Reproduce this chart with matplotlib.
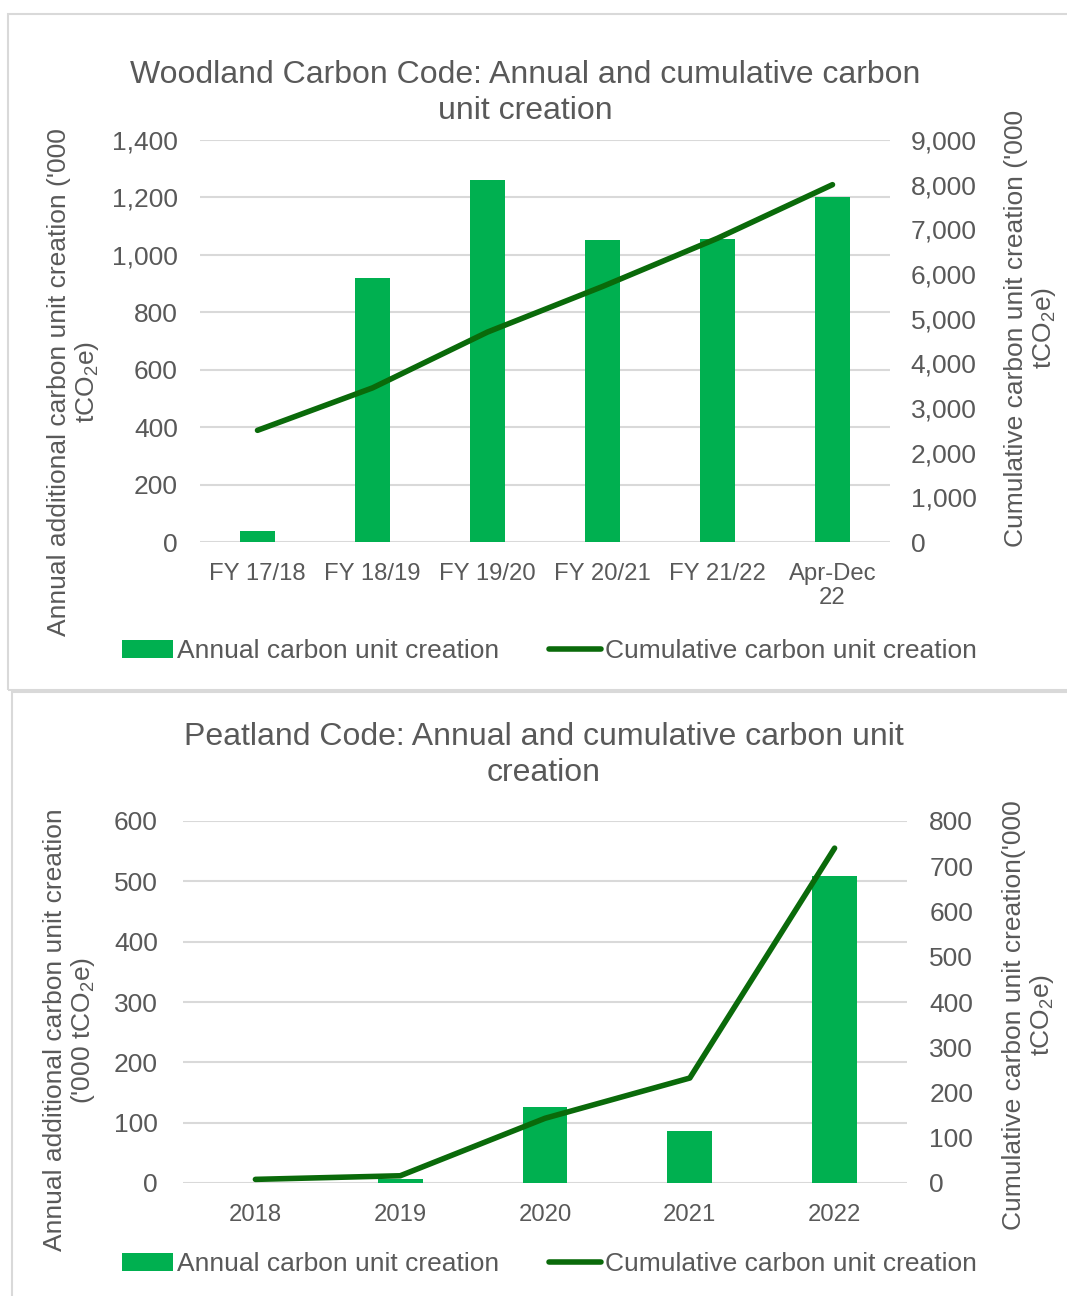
import matplotlib
matplotlib.use('Agg')
from matplotlib import pyplot as plt
from matplotlib.patches import Rectangle
from matplotlib.ticker import FuncFormatter

# -- data --
wcc_periods = ['FY 17/18', 'FY 18/19', 'FY 19/20', 'FY 20/21', 'FY 21/22', 'Apr-Dec\n22']
wcc_annual = [38, 920, 1261, 1052, 1055, 1200]
wcc_cumulative = [2500, 3450, 4700, 5720, 6800, 8000]

pc_years = ['2018', '2019', '2020', '2021', '2022']
pc_annual = [0, 7, 126, 86, 509]
pc_cumulative = [8, 16, 143, 232, 740]

bar_col = '#00B050'
line_col = '#0A6A0A'
txt_col = '#595959'
grid_col = '#D9D9D9'

plt.rcParams['font.family'] = ['Liberation Sans', 'DejaVu Sans']
plt.rcParams['mathtext.fontset'] = 'custom'
plt.rcParams['mathtext.rm'] = 'Liberation Sans'
plt.rcParams['mathtext.it'] = 'Liberation Sans'

W, H = 1067, 1296
fig = plt.figure(figsize=(W / 100, H / 100), dpi=100)

comma = FuncFormatter(lambda v, p: '{:,.0f}'.format(v))


def px(x, y):       # pixel coords of the picture to figure fractions
    return x / W, 1 - y / H


def draw_chart(box, cats, annual, cum, ylim1, step1, ylim2, step2, lpad, rpad, xpad):
    ax = fig.add_axes(box)
    ax2 = ax.twinx()
    xs = list(range(len(cats)))
    ax.bar(xs, annual, width=0.31, color=bar_col, zorder=2, label='Annual carbon unit creation')
    ax2.plot(xs, cum, color=line_col, lw=4, solid_capstyle='round', label='Cumulative carbon unit creation')
    ax.set_xlim(-0.5, len(cats) - 0.5)
    ax.set_ylim(0, ylim1)
    ax2.set_ylim(0, ylim2)
    ax.set_yticks(range(0, ylim1 + 1, step1))
    ax2.set_yticks(range(0, ylim2 + 1, step2))
    ax.yaxis.set_major_formatter(comma)
    ax2.yaxis.set_major_formatter(comma)
    ax.set_xticks(xs)
    ax.set_xticklabels(cats, linespacing=1.15)
    ax.grid(axis='y', color=grid_col, lw=1.5, zorder=0)
    ax.set_axisbelow(True)
    for a in (ax, ax2):
        for s in a.spines.values():
            s.set_visible(False)
    ax.tick_params(axis='y', length=0, pad=lpad, labelsize=19, labelcolor=txt_col)
    ax2.tick_params(axis='y', length=0, pad=rpad, labelsize=19, labelcolor=txt_col)
    ax.tick_params(axis='x', length=0, pad=xpad, labelsize=17.2, labelcolor=txt_col)
    return ax, ax2


# -- panel borders --
fig.patches.append(Rectangle(px(8, 690), (W - 8) / W + 0.01, 676 / H, transform=fig.transFigure,
                             fill=False, ec=grid_col, lw=1.5))
fig.patches.append(Rectangle(px(12, 1300), (W - 12) / W + 0.01, 608 / H, transform=fig.transFigure,
                             fill=False, ec=grid_col, lw=1.5))

# -- woodland carbon code --
ax_a, ax_a2 = draw_chart([200 / W, 1 - 542 / H, 690 / W, 402 / H], wcc_periods, wcc_annual, wcc_cumulative,
                         1400, 200, 9000, 1000, 16, 15, 15)
fig.text(*px(525, 93), 'Woodland Carbon Code: Annual and cumulative carbon\nunit creation',
         ha='center', va='center', fontsize=23, color=txt_col, linespacing=1.25)
fig.text(*px(74, 382), "Annual additional carbon unit creation ('000\ntCO$_2$e)", rotation=90,
         ha='center', va='center', multialignment='center', fontsize=19, color=txt_col, linespacing=1.1)
fig.text(*px(1031, 328), "Cumulative carbon unit creation ('000\ntCO$_2$e)", rotation=90,
         ha='center', va='center', multialignment='center', fontsize=19, color=txt_col, linespacing=1.1)
h1, l1 = ax_a.get_legend_handles_labels()
h2, l2 = ax_a2.get_legend_handles_labels()
fig.legend(h1 + h2, l1 + l2, loc='center', bbox_to_anchor=px(549, 651), ncol=2, frameon=False,
           fontsize=19, labelcolor=txt_col, handlelength=1.95, handletextpad=0.15, columnspacing=1.9)

# -- peatland code --
ax_b, ax_b2 = draw_chart([183 / W, 1 - 1183 / H, 724 / W, 362 / H], pc_years, pc_annual, pc_cumulative,
                         600, 100, 800, 100, 18, 16, 15)
fig.text(*px(544, 755), 'Peatland Code: Annual and cumulative carbon unit\ncreation',
         ha='center', va='center', fontsize=23, color=txt_col, linespacing=1.25)
fig.text(*px(70, 1030), "Annual additional carbon unit creation\n('000 tCO$_2$e)", rotation=90,
         ha='center', va='center', multialignment='center', fontsize=19, color=txt_col, linespacing=1.1)
fig.text(*px(1029, 1015), "Cumulative carbon unit creation('000\ntCO$_2$e)", rotation=90,
         ha='center', va='center', multialignment='center', fontsize=19, color=txt_col, linespacing=1.1)
h1, l1 = ax_b.get_legend_handles_labels()
h2, l2 = ax_b2.get_legend_handles_labels()
fig.legend(h1 + h2, l1 + l2, loc='center', bbox_to_anchor=px(549, 1264), ncol=2, frameon=False,
           fontsize=19, labelcolor=txt_col, handlelength=1.95, handletextpad=0.15, columnspacing=1.9)

fig.savefig('out.png', dpi=100)
